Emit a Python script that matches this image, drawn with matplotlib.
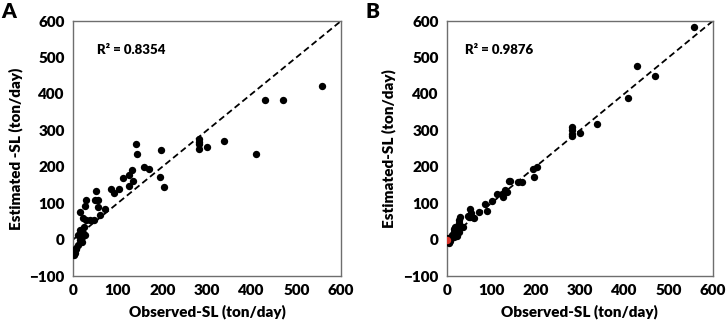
import numpy as np
import matplotlib.pyplot as plt

plt.rcParams['font.family'] = ['Lato', 'DejaVu Sans']
plt.rcParams['font.weight'] = 'bold'

# Observed values (shared by both panels)
observed = [557, 470, 429, 409, 338, 300, 282, 282, 282, 282, 203, 197, 195, 170, 160,
            143, 140, 135, 132, 126, 125, 113, 102, 91, 86, 72, 60, 56, 55, 51, 49, 47,
            37, 30, 28, 26, 26, 24, 22, 22, 20, 19, 16, 15, 15, 11, 10, 7, 6, 4, 2]

# Estimated values, panel A
estimated_a = [421, 384, 382, 235, 270, 255, 277, 262, 250, 268, 145, 245, 171, 195, 198,
               234, 262, 161, 192, 148, 177, 170, 138, 129, 140, 84, 67, 90, 108, 134, 108, 54,
               55, 110, 54, 93, 12, 35, 58, 17, 8, -6, 75, -1, 26, -15, 12, -24, -27, -38, -42]

# Estimated values, panel B
estimated_b = [585, 448, 476, 389, 318, 292, 308, 300, 291, 284, 200, 172, 195, 158, 157,
               161, 160, 131, 136, 117, 125, 124, 105, 79, 99, 75, 58, 63, 72, 85, 62, 65,
               35, 62, 55, 45, 20, 30, 25, 10, 15, 35, 30, 20, 8, 12, 5, 2, -5, -8, 4]

r2_labels = ['R² = 0.8354', 'R² = 0.9876']
y_labels = ['Estimated -SL (ton/day)', 'Estimated-SL (ton/day)']
panel_letters = ['A', 'B']

fig = plt.figure(figsize=(7.26, 3.29), dpi=100)
ax_a = fig.add_axes([0.1006, 0.161, 0.369, 0.775])
ax_b = fig.add_axes([0.6157, 0.161, 0.366, 0.775])

for i, (ax, est) in enumerate(zip([ax_a, ax_b], [estimated_a, estimated_b])):
    ax.plot([0, 600], [0, 600], color='black', linestyle=(0, (3.5, 2)), linewidth=1.3, zorder=2)
    ax.scatter(observed, est, s=28, color='black', zorder=3, linewidths=0)
    if i == 1:
        # red point at the origin in panel B
        ax.scatter([0], [0], s=28, color='#d9342b', zorder=4, linewidths=0)
    ax.set_xlim(0, 600)
    ax.set_ylim(-100, 600)
    ax.set_xticks(np.arange(0, 601, 100))
    ax.set_yticks(np.arange(-100, 601, 100))
    ax.tick_params(length=0, labelsize=11, pad=6)
    for lab in ax.get_xticklabels() + ax.get_yticklabels():
        lab.set_fontweight('heavy')
    for sp in ax.spines.values():
        sp.set_color('#6e6e6e')
        sp.set_linewidth(1.0)
    ax.set_xlabel('Observed-SL (ton/day)', fontsize=11, fontweight='heavy', labelpad=5)
    ax.set_ylabel(y_labels[i], fontsize=11, fontweight='heavy', labelpad=5)
    ax.text(0.09 if i == 0 else 0.067, 0.885, r2_labels[i], transform=ax.transAxes,
            fontsize=9.5, fontweight='heavy', va='center')

fig.text(0.002, 0.995, panel_letters[0], fontsize=15, fontweight='heavy', va='top', ha='left')
fig.text(0.503, 0.995, panel_letters[1], fontsize=15, fontweight='heavy', va='top', ha='left')

fig.savefig('out.png', dpi=100)
